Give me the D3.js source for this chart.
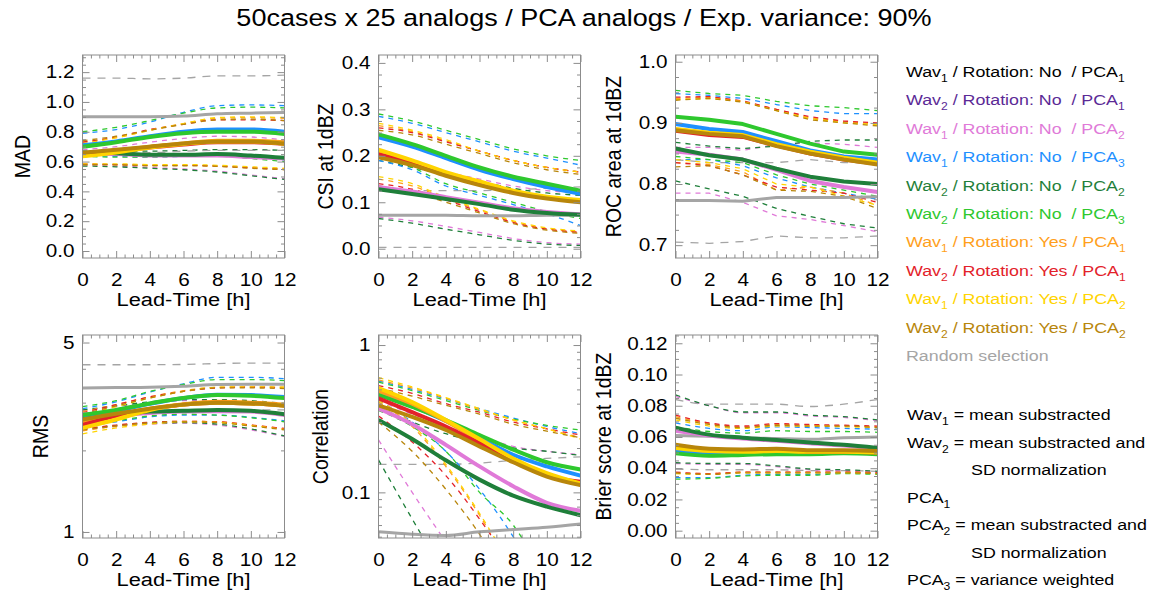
<!DOCTYPE html>
<html lang="en">
<head>
<meta charset="UTF-8">
<title>50cases x 25 analogs / PCA analogs</title>
<script src="https://d3js.org/d3.v7.min.js"></script>
<style>
  body { margin: 0; background: #fff; }
  svg text { font-family: "Liberation Sans", Arial, Helvetica, sans-serif; }
</style>
</head>
<body>
<svg id="chart" width="1153" height="597"></svg>
<script>
// ---- data ----
const leadTimes = [0, 2, 4, 6, 8, 10, 12];
const leadTicks = [0, 2, 4, 6, 8, 10, 12];

const legendWav = [1, 2, 1, 1, 2, 2, 1, 2, 1, 2];
const legendRotation = ["No ", "No ", "No ", "No ", "No ", "No ", "Yes", "Yes", "Yes", "Yes"];
const legendPca = [1, 1, 2, 3, 2, 3, 1, 1, 2, 2];
const legendColors = ["#000000", "#5b2a96", "#e07ad8", "#1e90ff", "#1f7f3a", "#2ec82e", "#ff9f1c", "#e3222a", "#ffd400", "#b8860b"];
const randomLabel = "Random selection";
const randomColor = "#a5a5a5";

const noteLines = ["Wav_1 = mean substracted", "Wav_2 = mean substracted and", "SD normalization",
                   "PCA_1", "PCA_2 = mean substracted and", "SD normalization", "PCA_3 = variance weighted"];
const noteIndent = [0, 0, 1, 0, 0, 1, 0];

// rows: random, Wav1/No/PCA2, Wav1/No/PCA3, Wav2/No/PCA2, Wav2/No/PCA3,
//       Wav1/Yes/PCA1, Wav2/Yes/PCA1, Wav1/Yes/PCA2, Wav2/Yes/PCA2
const plotColors = [randomColor, "#e07ad8", "#1e90ff", "#1f7f3a", "#2ec82e", "#ff9f1c", "#e3222a", "#ffd400", "#b8860b"];

const madMean = [
  [0.90, 0.90, 0.90, 0.905, 0.92, 0.925, 0.93],
  [0.65, 0.65, 0.64, 0.64, 0.64, 0.63, 0.62],
  [0.71, 0.735, 0.77, 0.80, 0.815, 0.815, 0.80],
  [0.66, 0.655, 0.645, 0.645, 0.65, 0.64, 0.625],
  [0.70, 0.73, 0.765, 0.79, 0.80, 0.80, 0.785],
  [0.655, 0.675, 0.70, 0.722, 0.74, 0.74, 0.73],
  [0.645, 0.67, 0.695, 0.715, 0.73, 0.73, 0.72],
  [0.635, 0.66, 0.695, 0.718, 0.735, 0.735, 0.72],
  [0.66, 0.68, 0.70, 0.722, 0.735, 0.735, 0.72]];
const madUpper = [
  [1.16, 1.16, 1.155, 1.16, 1.175, 1.175, 1.18],
  [0.68, 0.70, 0.73, 0.755, 0.77, 0.765, 0.745],
  [0.79, 0.815, 0.865, 0.93, 0.975, 0.98, 0.975],
  [0.67, 0.67, 0.67, 0.675, 0.68, 0.68, 0.675],
  [0.80, 0.83, 0.875, 0.925, 0.96, 0.965, 0.96],
  [0.73, 0.76, 0.81, 0.855, 0.89, 0.895, 0.89],
  [0.73, 0.765, 0.815, 0.85, 0.88, 0.88, 0.875],
  [0.72, 0.76, 0.81, 0.855, 0.895, 0.90, 0.895],
  [0.74, 0.77, 0.81, 0.85, 0.88, 0.885, 0.875]];
const madLower = [
  [0.65, 0.66, 0.66, 0.67, 0.675, 0.675, 0.675],
  [0.575, 0.57, 0.56, 0.55, 0.535, 0.51, 0.485],
  [0.64, 0.635, 0.63, 0.635, 0.64, 0.63, 0.61],
  [0.57, 0.565, 0.555, 0.545, 0.53, 0.505, 0.48],
  [0.635, 0.63, 0.63, 0.635, 0.635, 0.62, 0.60],
  [0.58, 0.58, 0.575, 0.575, 0.57, 0.56, 0.55],
  [0.585, 0.58, 0.575, 0.575, 0.57, 0.558, 0.548],
  [0.585, 0.585, 0.58, 0.58, 0.575, 0.565, 0.555],
  [0.58, 0.578, 0.572, 0.572, 0.568, 0.555, 0.545]];

const csiMean = [
  [0.072, 0.072, 0.072, 0.071, 0.071, 0.072, 0.072],
  [0.133, 0.123, 0.111, 0.099, 0.087, 0.079, 0.074],
  [0.24, 0.22, 0.195, 0.17, 0.15, 0.133, 0.118],
  [0.128, 0.118, 0.107, 0.096, 0.084, 0.077, 0.073],
  [0.246, 0.225, 0.2, 0.175, 0.155, 0.14, 0.125],
  [0.208, 0.188, 0.163, 0.142, 0.123, 0.11, 0.104],
  [0.203, 0.185, 0.16, 0.14, 0.122, 0.11, 0.103],
  [0.213, 0.19, 0.165, 0.145, 0.125, 0.112, 0.105],
  [0.197, 0.18, 0.157, 0.137, 0.12, 0.108, 0.10]];
const csiUpper = [
  [0.125, 0.125, 0.125, 0.125, 0.127, 0.13, 0.133],
  [0.195, 0.18, 0.165, 0.15, 0.135, 0.125, 0.12],
  [0.285, 0.27, 0.25, 0.23, 0.21, 0.195, 0.18],
  [0.19, 0.175, 0.16, 0.145, 0.13, 0.12, 0.115],
  [0.29, 0.275, 0.255, 0.235, 0.215, 0.20, 0.19],
  [0.265, 0.252, 0.232, 0.21, 0.19, 0.175, 0.165],
  [0.26, 0.25, 0.23, 0.21, 0.19, 0.175, 0.165],
  [0.27, 0.255, 0.235, 0.21, 0.19, 0.175, 0.165],
  [0.255, 0.245, 0.225, 0.205, 0.185, 0.17, 0.16]];
const csiLower = [
  [0.003, 0.003, 0.003, 0.003, 0.003, 0.003, 0.003],
  [0.068, 0.06, 0.048, 0.035, 0.022, 0.013, 0.01],
  [0.19, 0.17, 0.135, 0.115, 0.095, 0.075, 0.05],
  [0.065, 0.055, 0.042, 0.03, 0.018, 0.01, 0.007],
  [0.195, 0.175, 0.14, 0.12, 0.10, 0.08, 0.065],
  [0.15, 0.135, 0.108, 0.083, 0.058, 0.043, 0.036],
  [0.14, 0.128, 0.105, 0.08, 0.056, 0.042, 0.035],
  [0.155, 0.14, 0.11, 0.085, 0.06, 0.045, 0.038],
  [0.135, 0.122, 0.10, 0.077, 0.054, 0.04, 0.033]];

const rocMean = [
  [0.773, 0.773, 0.772, 0.778, 0.778, 0.778, 0.779],
  [0.853, 0.848, 0.84, 0.823, 0.805, 0.795, 0.787],
  [0.898, 0.89, 0.885, 0.87, 0.855, 0.845, 0.84],
  [0.858, 0.847, 0.84, 0.825, 0.812, 0.804, 0.80],
  [0.91, 0.905, 0.898, 0.882, 0.866, 0.853, 0.848],
  [0.889, 0.883, 0.879, 0.864, 0.852, 0.842, 0.834],
  [0.887, 0.88, 0.877, 0.863, 0.85, 0.84, 0.833],
  [0.89, 0.884, 0.88, 0.865, 0.853, 0.843, 0.835],
  [0.888, 0.882, 0.878, 0.862, 0.85, 0.84, 0.832]];
const rocUpper = [
  [0.84, 0.835, 0.835, 0.835, 0.84, 0.835, 0.835],
  [0.86, 0.86, 0.855, 0.865, 0.867, 0.865, 0.86],
  [0.948, 0.945, 0.94, 0.93, 0.92, 0.915, 0.915],
  [0.868, 0.862, 0.858, 0.862, 0.87, 0.872, 0.872],
  [0.953, 0.948, 0.945, 0.935, 0.928, 0.925, 0.92],
  [0.94, 0.942, 0.935, 0.922, 0.908, 0.902, 0.898],
  [0.942, 0.943, 0.936, 0.922, 0.91, 0.903, 0.90],
  [0.938, 0.94, 0.935, 0.92, 0.907, 0.90, 0.897],
  [0.937, 0.94, 0.934, 0.92, 0.905, 0.90, 0.895]];
const rocLower = [
  [0.705, 0.703, 0.706, 0.715, 0.712, 0.712, 0.715],
  [0.785, 0.785, 0.77, 0.748, 0.742, 0.732, 0.722],
  [0.84, 0.84, 0.83, 0.81, 0.795, 0.785, 0.775],
  [0.805, 0.792, 0.78, 0.76, 0.747, 0.735, 0.728],
  [0.845, 0.84, 0.835, 0.815, 0.80, 0.79, 0.78],
  [0.835, 0.832, 0.82, 0.79, 0.795, 0.785, 0.765],
  [0.835, 0.83, 0.815, 0.795, 0.79, 0.785, 0.77],
  [0.84, 0.835, 0.825, 0.80, 0.795, 0.78, 0.765],
  [0.828, 0.83, 0.815, 0.79, 0.788, 0.78, 0.76]];

const rmsMean = [
  [3.40, 3.41, 3.42, 3.45, 3.50, 3.51, 3.51],
  [2.58, 2.68, 2.75, 2.78, 2.79, 2.78, 2.70],
  [2.68, 2.80, 2.97, 3.12, 3.21, 3.20, 3.15],
  [2.60, 2.70, 2.78, 2.80, 2.82, 2.80, 2.72],
  [2.70, 2.82, 2.98, 3.12, 3.20, 3.18, 3.12],
  [2.55, 2.70, 2.85, 2.96, 3.02, 3.00, 2.95],
  [2.48, 2.68, 2.84, 2.95, 3.00, 2.98, 2.93],
  [2.42, 2.60, 2.82, 2.95, 3.00, 2.98, 2.93],
  [2.60, 2.73, 2.85, 2.95, 3.00, 2.98, 2.92]];
const rmsUpper = [
  [4.14, 4.14, 4.14, 4.15, 4.18, 4.20, 4.20],
  [2.80, 2.90, 3.00, 3.05, 3.05, 3.00, 2.95],
  [2.85, 3.02, 3.28, 3.52, 3.72, 3.72, 3.68],
  [2.82, 2.92, 3.02, 3.08, 3.08, 3.05, 2.98],
  [2.90, 3.05, 3.30, 3.50, 3.65, 3.65, 3.62],
  [2.78, 2.95, 3.15, 3.32, 3.42, 3.43, 3.42],
  [2.75, 2.95, 3.15, 3.30, 3.40, 3.42, 3.40],
  [2.70, 2.90, 3.12, 3.30, 3.42, 3.43, 3.42],
  [2.72, 2.92, 3.12, 3.30, 3.40, 3.40, 3.38]];
const rmsLower = [
  [2.75, 2.78, 2.80, 2.80, 2.82, 2.82, 2.82],
  [2.38, 2.45, 2.50, 2.52, 2.48, 2.38, 2.25],
  [2.45, 2.55, 2.66, 2.70, 2.70, 2.65, 2.57],
  [2.40, 2.47, 2.52, 2.53, 2.50, 2.40, 2.26],
  [2.47, 2.57, 2.68, 2.72, 2.70, 2.64, 2.55],
  [2.36, 2.46, 2.53, 2.56, 2.55, 2.48, 2.40],
  [2.40, 2.48, 2.54, 2.56, 2.55, 2.48, 2.41],
  [2.30, 2.42, 2.50, 2.55, 2.54, 2.47, 2.39],
  [2.38, 2.46, 2.53, 2.55, 2.53, 2.46, 2.38]];

const corMean = [
  [0.054, 0.052, 0.051, 0.054, 0.056, 0.058, 0.061],
  [0.37, 0.29, 0.21, 0.15, 0.11, 0.085, 0.075],
  [0.47, 0.385, 0.305, 0.235, 0.18, 0.15, 0.13],
  [0.31, 0.23, 0.165, 0.122, 0.095, 0.08, 0.07],
  [0.46, 0.38, 0.31, 0.245, 0.195, 0.16, 0.143],
  [0.49, 0.40, 0.305, 0.225, 0.168, 0.132, 0.113],
  [0.435, 0.35, 0.28, 0.215, 0.165, 0.13, 0.118],
  [0.51, 0.41, 0.31, 0.23, 0.17, 0.135, 0.115],
  [0.39, 0.325, 0.265, 0.205, 0.16, 0.128, 0.112]];
const corUpper = [
  [0.155, 0.155, 0.155, 0.158, 0.165, 0.17, 0.174],
  [0.42, 0.34, 0.28, 0.24, 0.205, 0.19, 0.18],
  [0.57, 0.50, 0.43, 0.37, 0.32, 0.28, 0.25],
  [0.38, 0.30, 0.25, 0.22, 0.20, 0.19, 0.178],
  [0.56, 0.49, 0.42, 0.36, 0.315, 0.285, 0.265],
  [0.58, 0.51, 0.435, 0.365, 0.31, 0.27, 0.235],
  [0.53, 0.47, 0.40, 0.35, 0.30, 0.27, 0.245],
  [0.60, 0.52, 0.44, 0.37, 0.31, 0.27, 0.23],
  [0.51, 0.45, 0.39, 0.34, 0.29, 0.26, 0.235]];
const corLower = [
  [0.03, 0.03, 0.03, 0.03, 0.03, 0.03, 0.03],
  [0.227, 0.10, 0.046, 0.021, 0.01, 0.005, 0.002],
  [0.42, 0.30, 0.19, 0.105, 0.05, 0.02, 0.008],
  [0.166, 0.066, 0.027, 0.011, 0.0045, 0.002, 0.001],
  [0.36, 0.28, 0.19, 0.10, 0.06, 0.025, 0.01],
  [0.41, 0.28, 0.15, 0.07, 0.028, 0.011, 0.005],
  [0.33, 0.22, 0.13, 0.066, 0.03, 0.012, 0.005],
  [0.42, 0.29, 0.155, 0.072, 0.03, 0.012, 0.005],
  [0.30, 0.19, 0.105, 0.052, 0.022, 0.009, 0.004]];

const brierMean = [
  [0.061, 0.0605, 0.0595, 0.059, 0.0585, 0.0595, 0.060],
  [0.064, 0.061, 0.059, 0.0575, 0.056, 0.0545, 0.0525],
  [0.0515, 0.0495, 0.0495, 0.050, 0.050, 0.0505, 0.050],
  [0.066, 0.0615, 0.0595, 0.058, 0.0565, 0.055, 0.053],
  [0.0495, 0.048, 0.0485, 0.049, 0.049, 0.0495, 0.049],
  [0.0545, 0.052, 0.0515, 0.052, 0.051, 0.051, 0.0505],
  [0.054, 0.0515, 0.051, 0.0515, 0.0505, 0.0505, 0.050],
  [0.053, 0.051, 0.0505, 0.051, 0.0505, 0.0505, 0.050],
  [0.055, 0.0525, 0.052, 0.0525, 0.0515, 0.0515, 0.051]];
const brierUpper = [
  [0.084, 0.081, 0.081, 0.081, 0.0795, 0.081, 0.084],
  [0.086, 0.080, 0.0755, 0.0755, 0.0735, 0.0725, 0.0705],
  [0.069, 0.0655, 0.064, 0.0665, 0.066, 0.0655, 0.065],
  [0.087, 0.080, 0.076, 0.076, 0.074, 0.073, 0.071],
  [0.0665, 0.0635, 0.0625, 0.064, 0.0635, 0.0635, 0.063],
  [0.073, 0.0685, 0.0665, 0.068, 0.0675, 0.067, 0.0665],
  [0.074, 0.069, 0.067, 0.0685, 0.068, 0.0675, 0.067],
  [0.071, 0.067, 0.0655, 0.067, 0.067, 0.0665, 0.066],
  [0.072, 0.068, 0.066, 0.0675, 0.067, 0.067, 0.066]];
const brierLower = [
  [0.0395, 0.039, 0.039, 0.039, 0.0385, 0.0385, 0.038],
  [0.043, 0.0425, 0.0425, 0.041, 0.039, 0.0385, 0.0375],
  [0.034, 0.034, 0.0355, 0.036, 0.036, 0.037, 0.0365],
  [0.0435, 0.043, 0.043, 0.0415, 0.0395, 0.039, 0.038],
  [0.033, 0.0335, 0.035, 0.0355, 0.0355, 0.0365, 0.036],
  [0.037, 0.0365, 0.0375, 0.0375, 0.0375, 0.0375, 0.037],
  [0.0375, 0.0365, 0.0375, 0.0375, 0.0375, 0.0375, 0.037],
  [0.0365, 0.036, 0.037, 0.037, 0.037, 0.037, 0.0365],
  [0.037, 0.036, 0.037, 0.037, 0.037, 0.037, 0.0365]];

const madTicks = [0, 0.2, 0.4, 0.6, 0.8, 1.0, 1.2];
const csiTicks = [0, 0.1, 0.2, 0.3, 0.4];
const rocTicks = [0.7, 0.8, 0.9, 1.0];
const rmsTicks = [1, 5];
const rmsMinor = [2, 3, 4];
const corTicks = [0.1, 1];
const corMinor = [0.05, 0.06, 0.07, 0.08, 0.09, 0.2, 0.3, 0.4, 0.5, 0.6, 0.7, 0.8, 0.9];
const brierTicks = [0, 0.02, 0.04, 0.06, 0.08, 0.10, 0.12];

// ---- layout ----
const svg = d3.select("#chart");
const W = 202, H = 203;
const colX = [82.5, 378.5, 675.5];
const rowY = [55, 335];
const SX = 1.15;        // horizontal stretch of the reference lettering
const frameColor = "#8c8c8c";

const panels = [
  {col: 0, row: 0, label: "MAD", labelX: 22, mean: madMean, upper: madUpper, lower: madLower,
   domain: [-0.047, 1.315], ticks: madTicks, minorStep: 0.05, fmt: d3.format(".1f")},
  {col: 1, row: 0, label: "CSI at 1dBZ", labelX: 325, mean: csiMean, upper: csiUpper, lower: csiLower,
   domain: [-0.02, 0.417], ticks: csiTicks, minorStep: 0.025, fmt: d3.format(".1f")},
  {col: 2, row: 0, label: "ROC area at 1dBZ", labelX: 613, mean: rocMean, upper: rocUpper, lower: rocLower,
   domain: [0.679, 1.011], ticks: rocTicks, minorStep: 0.025, fmt: d3.format(".1f"), jagged: true},
  {col: 0, row: 1, label: "RMS", labelX: 40, mean: rmsMean, upper: rmsUpper, lower: rmsLower,
   log: true, domain: [0.95, 5.33], ticks: rmsTicks, minor: rmsMinor, fmt: d3.format("d")},
  {col: 1, row: 1, label: "Correlation", labelX: 320, mean: corMean, upper: corUpper, lower: corLower,
   log: true, domain: [0.049, 1.17], ticks: corTicks, minor: corMinor, fmt: d => d === 1 ? "1" : "0.1"},
  {col: 2, row: 1, label: "Brier score at 1dBZ", labelX: 603, mean: brierMean, upper: brierUpper, lower: brierLower,
   domain: [-0.0047, 0.1253], ticks: brierTicks, minorStep: 0.005, fmt: d3.format(".2f")}
];

svg.append("text")
  .attr("transform", `translate(584,26) scale(${SX},1)`)
  .attr("text-anchor", "middle")
  .attr("font-size", 23.5)
  .style("fill", "#000")
  .text("50cases x 25 analogs / PCA analogs / Exp. variance: 90%");

function styleAxis(g) {
  g.attr("font-family", null).attr("font-size", 18);
  g.select(".domain").remove();
  g.selectAll(".tick line").attr("stroke", frameColor);
  g.selectAll(".tick text").attr("fill", "#000");
}

panels.forEach((p, pi) => {
  const px = colX[p.col], py = rowY[p.row];
  const g = svg.append("g").attr("transform", `translate(${px},${py})`);

  const x = d3.scaleLinear().domain([0, 12]).range([0, W]);
  const y = (p.log ? d3.scaleLog() : d3.scaleLinear()).domain(p.domain).range([H, 0]);

  g.append("clipPath").attr("id", "clip" + pi)
    .append("rect").attr("width", W).attr("height", H);

  const line = d3.line()
    .x((d, i) => x(leadTimes[i]))
    .y(d => y(d))
    .curve(p.jagged ? d3.curveLinear : d3.curveMonotoneX);

  const plot = g.append("g").attr("clip-path", `url(#clip${pi})`);

  // spread (dashed) lines
  [p.upper, p.lower].forEach(set => {
    plot.selectAll(null)
      .data(set)
      .enter().append("path")
      .attr("d", line)
      .attr("fill", "none")
      .attr("stroke", (d, i) => plotColors[i])
      .attr("stroke-width", 1.3)
      .attr("stroke-dasharray", (d, i) => i === 0 ? "8,7" : "5,5");
  });

  // mean (solid) lines
  plot.selectAll(null)
    .data(p.mean)
    .enter().append("path")
    .attr("d", line)
    .attr("fill", "none")
    .attr("stroke", (d, i) => plotColors[i])
    .attr("stroke-width", (d, i) => i === 0 ? 3 : 4)
    .attr("stroke-linejoin", "round");

  // frame
  g.append("rect").attr("width", W).attr("height", H)
    .attr("fill", "none").attr("stroke", frameColor).attr("stroke-width", 1);

  // x axes
  const minorX = d3.range(0, 12.01, 0.5).filter(v => v % 2 !== 0);
  g.append("g").attr("transform", `translate(0,${H})`)
    .call(d3.axisBottom(x).tickValues(leadTicks).tickSizeInner(-7).tickSizeOuter(0).tickPadding(15).tickFormat(d3.format("d")))
    .call(styleAxis)
    .selectAll("text").attr("transform", `scale(${SX},1)`);
  g.append("g").attr("transform", `translate(0,${H})`)
    .call(d3.axisBottom(x).tickValues(minorX).tickSize(-3.5).tickFormat(""))
    .call(styleAxis);
  g.append("g")
    .call(d3.axisTop(x).tickValues(leadTicks).tickSize(-7).tickFormat(""))
    .call(styleAxis);
  g.append("g")
    .call(d3.axisTop(x).tickValues(minorX).tickSize(-3.5).tickFormat(""))
    .call(styleAxis);

  // y axes
  let minorY = p.minor;
  if (!minorY) {
    minorY = d3.range(p.ticks[0] - 4 * p.minorStep, p.domain[1], p.minorStep)
      .filter(v => v >= p.domain[0] && v <= p.domain[1])
      .filter(v => !p.ticks.some(t => Math.abs(t - v) < 1e-9));
  }
  g.append("g")
    .call(d3.axisLeft(y).tickValues(p.ticks).tickSizeInner(-7).tickSizeOuter(0).tickPadding(7).tickFormat(p.fmt))
    .call(styleAxis)
    .selectAll("text").attr("transform", `scale(${SX},1)`);
  g.append("g")
    .call(d3.axisLeft(y).tickValues(minorY).tickSize(-3.5).tickFormat(""))
    .call(styleAxis);
  g.append("g").attr("transform", `translate(${W},0)`)
    .call(d3.axisRight(y).tickValues(p.ticks).tickSize(-7).tickFormat(""))
    .call(styleAxis);
  g.append("g").attr("transform", `translate(${W},0)`)
    .call(d3.axisRight(y).tickValues(minorY).tickSize(-3.5).tickFormat(""))
    .call(styleAxis);

  // axis titles
  g.append("text")
    .attr("transform", `translate(${W / 2},${H + 48}) scale(${SX},1)`)
    .attr("text-anchor", "middle")
    .attr("font-size", 19)
    .style("fill", "#000")
    .text("Lead-Time [h]");
  svg.append("text")
    .attr("transform", `translate(${p.labelX},${py + H / 2}) rotate(-90) scale(1,${SX})`)
    .attr("text-anchor", "middle")
    .attr("dominant-baseline", "central")
    .attr("font-size", 19.5)
    .style("fill", "#000")
    .text(p.label);
});

// text with "_n" subscripts
function richText(x, y, str, size, color) {
  const t = svg.append("text")
    .attr("transform", `translate(${x},${y}) scale(${SX},1)`)
    .attr("font-size", size)
    .style("fill", color)
    .style("white-space", "pre");
  const parts = str.split(/_(\d)/);
  let shifted = false;
  parts.forEach((s, i) => {
    if (!s) return;
    const span = t.append("tspan").text(s);
    if (i % 2 === 1) {
      span.attr("font-size", size * 0.68).attr("dy", 5);
      shifted = true;
    } else if (shifted) {
      span.attr("dy", -5);
      shifted = false;
    }
  });
}

// legend
legendColors.forEach((c, i) => {
  richText(906, 77 + i * 28.4,
    `Wav_${legendWav[i]} / Rotation: ${legendRotation[i]} / PCA_${legendPca[i]}`, 15.5, c);
});
richText(906, 77 + 10 * 28.4, randomLabel, 15.5, randomColor);

// notes
noteLines.forEach((s, i) => {
  richText(noteIndent[i] ? 971 : 907, 420 + i * 27.5, s, 15.5, "#000");
});
</script>
</body>
</html>
